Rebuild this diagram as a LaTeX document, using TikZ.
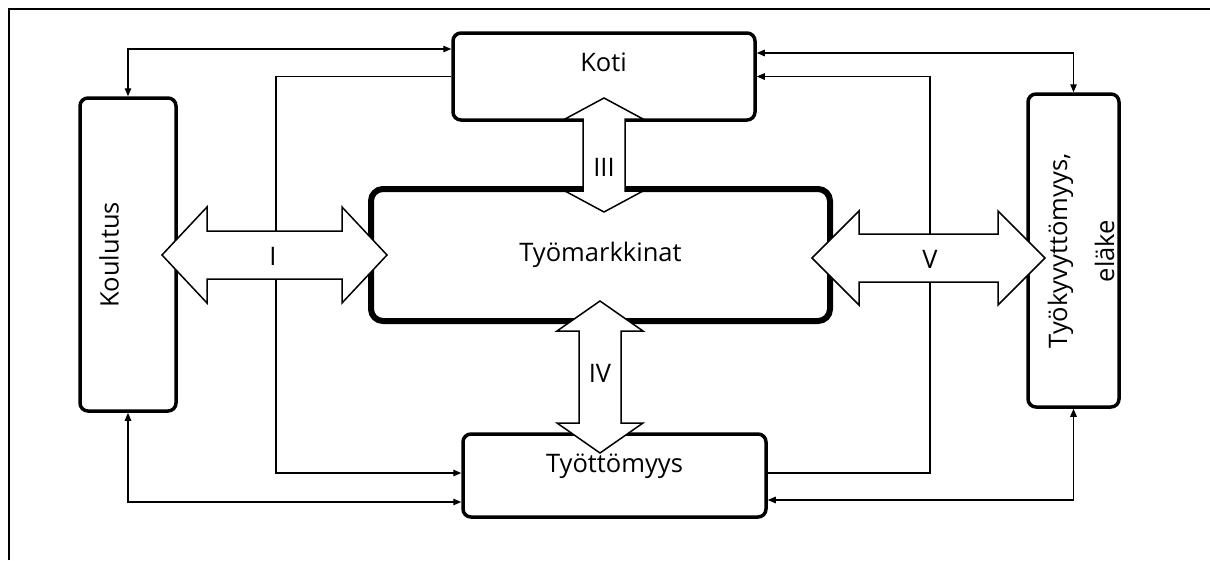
\documentclass[tikz,border=0pt]{standalone}
\usepackage{fontspec}
\setmainfont{Open Sans}
\usetikzlibrary{arrows.meta}

\begin{document}
\begin{tikzpicture}[x=1pt, y=-1pt, >={Triangle[length=8pt,width=6.5pt]},
                    box/.style={draw, rounded corners=8pt, line width=3.5pt, inner sep=0pt},
                    txt/.style={inner sep=0pt, font=\fontsize{25.5}{30}\selectfont},
                    link/.style={line width=1.3pt},
                    fat arrow/.style={draw, fill=white, line width=1.5pt, line join=miter}]

  \useasboundingbox (0,0) rectangle (1210,560);
  \draw[line width=1.5pt] (9,560) -- (9,9) -- (1210,9);

  % boxes
  \node[box, minimum width=302pt, minimum height=87pt] (koti) at (604,76.5) {};
  \node[box, minimum width=96pt, minimum height=313pt] (koul) at (128,254.5) {};
  \node[box, minimum width=459pt, minimum height=132pt, rounded corners=12pt,
        line width=6pt, txt] (tmark) at (600.5,255) {Työmarkkinat};
  \node[box, minimum width=303pt, minimum height=83pt] (tyot) at (614.5,475.5) {};
  \node[box, minimum width=91pt, minimum height=313pt] (tkv) at (1073.5,250.5) {};

  \node[txt] (kotitxt) at (603.5,62.5) {Koti};
  \node[txt, rotate=90] (koultxt) at (109,255) {Koulutus};
  \node[txt] (tyottxt) at (614.5,466) {Työttömyys};
  \node[txt, rotate=90, align=center, font=\fontsize{25.5}{47}\selectfont] (tkvtxt)
        at (1081,251) {Työkyvyttömyys,\\eläke};

  % thin links
  \draw[link, <->] (koul.north) |- ([yshift=27.5pt]koti.west);
  \draw[link, ->] (koti.west) -| (276,300) |- ([yshift=2.5pt]tyot.west);
  \draw[link, <->] (koul.south) |- ([yshift=-26.5pt]tyot.west);
  \draw[link, <->] ([yshift=23.5pt]koti.east) -| (tkv.north);
  \draw[link, ->] ([yshift=2.5pt]tyot.east) -| (930,300) |- (koti.east);
  \draw[link, <->] ([yshift=-24.5pt]tyot.east) -| (tkv.south);

  % big arrows
  \draw[fat arrow] (162,255) -- (207,207) -- (207,231) -- (342,231) -- (342,207) -- (387,255)
                   -- (342,303) -- (342,279) -- (207,279) -- (207,303) -- cycle;
  \draw[fat arrow] (604,98) -- (643,119) -- (625,119) -- (625,191) -- (643,191) -- (604,212)
                   -- (565,191) -- (583,191) -- (583,119) -- (565,119) -- cycle;
  \draw[fat arrow] (600,301) -- (643,331) -- (621,331) -- (621,423) -- (643,423) -- (600,453)
                   -- (557,423) -- (579,423) -- (579,331) -- (557,331) -- cycle;
  \draw[fat arrow] (812,258) -- (859,211) -- (859,234) -- (998,234) -- (998,211) -- (1045,258)
                   -- (998,305) -- (998,282) -- (859,282) -- (859,305) -- cycle;

  \node[txt] (I) at (273,256) {I};
  \node[txt] (III) at (604,167.5) {III};
  \node[txt] (IV) at (600,373) {IV};
  \node[txt] (V) at (930,259) {V};
\end{tikzpicture}
\end{document}
